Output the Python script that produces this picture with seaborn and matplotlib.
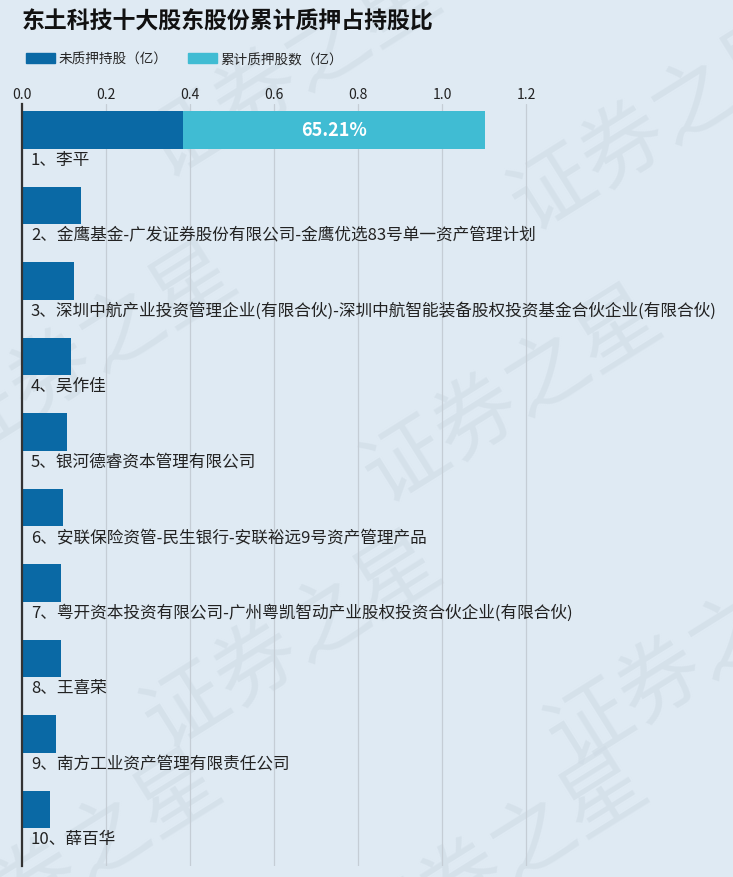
import matplotlib
matplotlib.use("Agg")
import matplotlib.pyplot as plt
import matplotlib.patches as mpatches
import seaborn as sns
import pandas as pd

holders = [
    "1、李平",
    "2、金鹰基金-广发证券股份有限公司-金鹰优选83号单一资产管理计划",
    "3、深圳中航产业投资管理企业(有限合伙)-深圳中航智能装备股权投资基金合伙企业(有限合伙)",
    "4、吴作佳",
    "5、银河德睿资本管理有限公司",
    "6、安联保险资管-民生银行-安联裕远9号资产管理产品",
    "7、粤开资本投资有限公司-广州粤凯智动产业股权投资合伙企业(有限合伙)",
    "8、王喜荣",
    "9、南方工业资产管理有限责任公司",
    "10、薛百华",
]
unpledged = [0.383, 0.140, 0.124, 0.117, 0.107, 0.098, 0.093, 0.093, 0.081, 0.067]
pledged = [0.719, 0, 0, 0, 0, 0, 0, 0, 0, 0]
pct_labels = ["65.21%", "", "", "", "", "", "", "", "", ""]
xticks = [0.0, 0.2, 0.4, 0.6, 0.8, 1.0, 1.2]
title = "东土科技十大股东股份累计质押占持股比"
legend_labels = ["未质押持股（亿）", "累计质押股数（亿）"]

df = pd.DataFrame({"name": holders, "unpledged": unpledged, "pledged": pledged})
df["total"] = df["unpledged"] + df["pledged"]

BG = "#dfeaf3"
DARK = "#0a69a5"
LIGHT = "#40bcd3"

sns.set_theme(style="white")
plt.rcParams["font.family"] = ["Noto Sans CJK SC", "DejaVu Sans"]

fig = plt.figure(figsize=(7.33, 8.78), dpi=100)
fig.patch.set_facecolor(BG)

# watermark in a background axes
wm = fig.add_axes([0, 0, 1, 1], zorder=-5)
wm.set_axis_off()
wm.set_xlim(0, 1)
wm.set_ylim(0, 1)
wm_pos = [(0.40, 0.92), (0.90, 0.86), (0.12, 0.60), (0.70, 0.55), (0.40, 0.27), (0.95, 0.25), (0.10, 0.02), (0.68, 0.02)]
for (wx, wy) in wm_pos:
    wm.text(wx, wy, "证券之星", fontsize=60, color="#cfdbe5", alpha=0.6, rotation=32,
            ha="center", va="center", clip_on=True)

ax = fig.add_axes([22 / 733, 11 / 878, 711 / 733, 762 / 878], zorder=1)
ax.set_facecolor("none")

sns.barplot(data=df, x="total", y="name", color=LIGHT, width=0.5, ax=ax,
            saturation=1, orient="h", linewidth=0, zorder=3)
sns.barplot(data=df, x="unpledged", y="name", color=DARK, width=0.5, ax=ax,
            saturation=1, orient="h", linewidth=0, zorder=4)

ax.set_xlim(0, 711 / 420)
ax.set_ylim(9.748, -0.344)
ax.set_xticks(xticks)
ax.set_xticklabels([f"{t:.1f}" for t in xticks], fontsize=10, color="#222222")
ax.xaxis.tick_top()
ax.tick_params(axis="x", length=0, pad=2.5)
ax.set_yticks([])
ax.set_xlabel("")
ax.set_ylabel("")
ax.grid(axis="x", color="#c5cdd5", linewidth=0.9, zorder=1)
ax.set_axisbelow(True)
for s in ["top", "right", "bottom"]:
    ax.spines[s].set_visible(False)
ax.spines["left"].set_color("#333333")
ax.spines["left"].set_linewidth(1.6)
ax.spines["left"].set_zorder(6)

for i, name in enumerate(holders):
    ax.text(0.021, i + 0.385, name, fontsize=12, color="#222222", va="center", ha="left", zorder=5)
    if pct_labels[i]:
        ax.text(unpledged[i] + pledged[i] / 2, i, pct_labels[i], fontsize=13, fontweight="bold",
                color="white", ha="center", va="center", zorder=6)

fig.text(22 / 733, 1 - 22 / 878, title, fontsize=16.5, fontweight="bold", color="#111111",
         ha="left", va="center")

handles = [mpatches.Patch(color=DARK), mpatches.Patch(color=LIGHT)]
fig.legend(handles, legend_labels, loc="center left", bbox_to_anchor=(26 / 733, 1 - 60 / 878),
           frameon=False, ncol=2, fontsize=9.8, handlelength=2.1, handleheight=0.75,
           handletextpad=0.3, columnspacing=1.5, borderpad=0, borderaxespad=0)

fig.savefig("out.png", dpi=100, facecolor=BG)
